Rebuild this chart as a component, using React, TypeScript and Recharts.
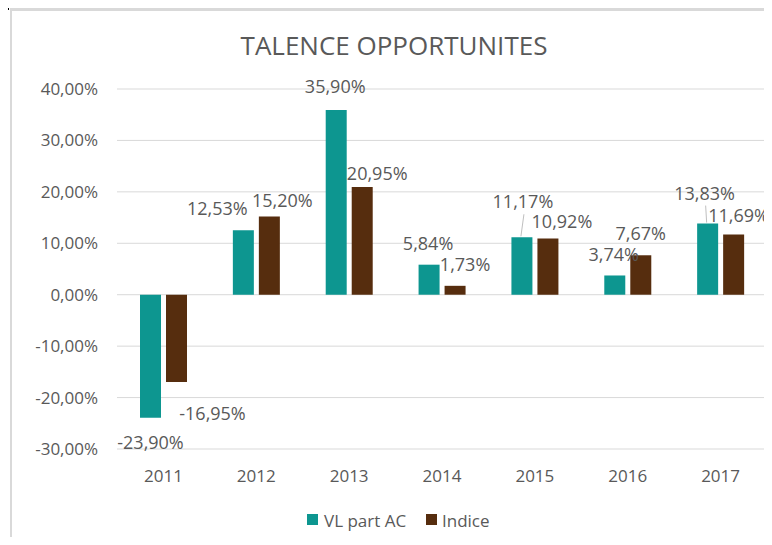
import React from "react";
import { BarChart, Bar, XAxis, YAxis, CartesianGrid, LabelList } from "recharts";

// chart data (percent units)
const years = ["2011", "2012", "2013", "2014", "2015", "2016", "2017"];
const vlPartAC = [-23.9, 12.53, 35.9, 5.84, 11.17, 3.74, 13.83];
const indice = [-16.95, 15.2, 20.95, 1.73, 10.92, 7.67, 11.69];
const yTicks = [-30, -20, -10, 0, 10, 20, 30, 40];

const seriesNames = ["VL part AC", "Indice"];
const TEAL = "#0d9690";
const BROWN = "#562d0e";
const TEXT = "#595959";
const GRID = "#d9d9d9";
const FONT = "'Open Sans', sans-serif";

// hand-moved data labels in the original workbook: [dx, dy] in px
const vlLabelShift = [[0, 0], [-26, 0], [-1, -2], [-1, 0], [1, -14], [-1, 1], [-3, -9]];
const indiceLabelShift = [[36, 7], [13, 5], [15, 8], [10, 0], [14, 4], [0, 0], [5, 2]];
const vlLeader = [false, false, false, false, true, false, true];

const data = years.map((year, i) => ({ year, vl: vlPartAC[i], indice: indice[i] }));

const fmt = (v: number) => `${v.toFixed(2).replace(".", ",")}%`;

function makeLabel(shifts: number[][], leaders?: boolean[]) {
  return function DataLabel(props: any) {
    const { x, y, width, height, value, index } = props;
    const cx = x + width / 2;
    const top = Math.min(y, y + height);
    const bottom = Math.max(y, y + height);
    const [dx, dy] = shifts[index] || [0, 0];
    const baseline = value >= 0 ? top - 15 + dy : bottom + 31 + dy;
    return (
      <g>
        {leaders && leaders[index] && (
          <line x1={cx + dx + 1} y1={baseline + 6} x2={cx - 1} y2={top - 1} stroke="#bfbfbf" strokeWidth={1} />
        )}
        <text x={cx + dx} y={baseline} textAnchor="middle" fill={TEXT} fontSize={18} fontFamily={FONT}>
          {fmt(value)}
        </text>
      </g>
    );
  };
}

export default function App() {
  return (
    <div style={{ position: "relative", width: 772, height: 545, margin: -8, background: "#fff", overflow: "hidden" }}>
      {/* frame */}
      <div style={{ position: "absolute", left: 10, top: 8, width: 762, height: 3, background: GRID }} />
      <div style={{ position: "absolute", left: 10, top: 8, width: 2, height: 537, background: GRID }} />
      <div style={{ position: "absolute", left: 0, top: 0, width: 2, height: 10, background: "#000" }} />
      <div style={{ position: "absolute", left: 0, top: 8, width: 9, height: 2, background: "#000" }} />

      <div style={{ position: "absolute", left: 0, top: 0 }}>
        <BarChart
          width={772}
          height={545}
          data={data}
          margin={{ top: 89, right: 5, bottom: 66, left: 0 }}
          barSize={21}
          barGap={5}
        >
          <CartesianGrid vertical={false} stroke={GRID} />
          <XAxis
            dataKey="year"
            axisLine={false}
            tickLine={false}
            tickSize={0}
            tickMargin={21}
            height={30}
            tick={{ fill: TEXT, fontSize: 17, fontFamily: FONT }}
          />
          <YAxis
            domain={[-30, 40]}
            ticks={yTicks}
            width={117}
            axisLine={false}
            tickLine={false}
            tickSize={0}
            tickMargin={19}
            tickFormatter={fmt}
            tick={{ fill: TEXT, fontSize: 17, fontFamily: FONT }}
          />
          <Bar dataKey="vl" name={seriesNames[0]} fill={TEAL} isAnimationActive={false}>
            <LabelList dataKey="vl" content={makeLabel(vlLabelShift, vlLeader)} />
          </Bar>
          <Bar dataKey="indice" name={seriesNames[1]} fill={BROWN} isAnimationActive={false}>
            <LabelList dataKey="indice" content={makeLabel(indiceLabelShift)} />
          </Bar>
        </BarChart>
      </div>

      {/* title and legend */}
      <svg width={772} height={545} style={{ position: "absolute", left: 0, top: 0, pointerEvents: "none" }}>
        <text x={394} y={55} textAnchor="middle" fill={TEXT} fontSize={26} fontFamily={FONT}>
          TALENCE OPPORTUNITES
        </text>
        <rect x={307} y={514} width={11} height={11} fill={TEAL} />
        <text x={324} y={527} fill={TEXT} fontSize={17} fontFamily={FONT}>
          {seriesNames[0]}
        </text>
        <rect x={426} y={514} width={11} height={11} fill={BROWN} />
        <text x={442} y={527} fill={TEXT} fontSize={17} fontFamily={FONT}>
          {seriesNames[1]}
        </text>
      </svg>
    </div>
  );
}
